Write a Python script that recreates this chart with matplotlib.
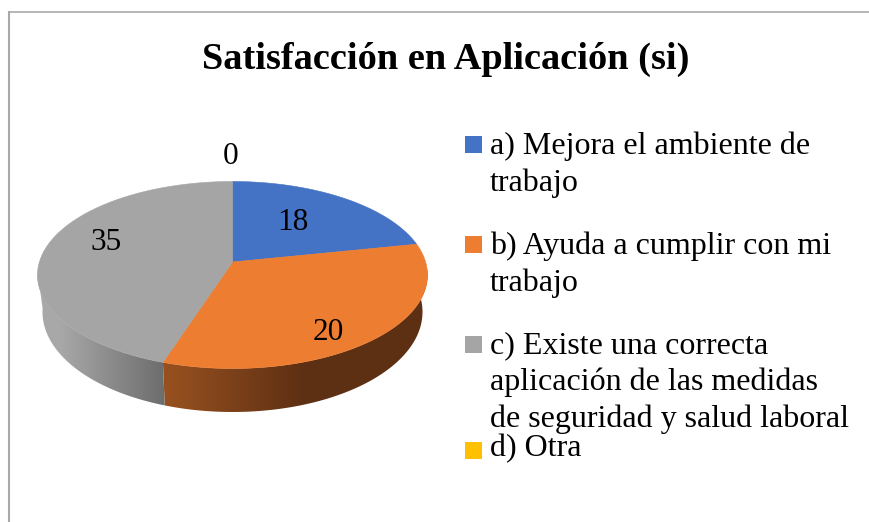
import numpy as np
from matplotlib import pyplot as plt
from matplotlib.colors import to_rgb
from matplotlib.patches import Polygon, Rectangle

plt.rcParams['font.family'] = ['Liberation Serif', 'DejaVu Serif']

title = 'Satisfacción en Aplicación (si)'
categories = [
    'a) Mejora el ambiente de\ntrabajo',
    'b) Ayuda a cumplir con mi\ntrabajo',
    'c) Existe una correcta\naplicación de las medidas\nde seguridad y salud laboral',
    'd) Otra',
]
values = [18, 20, 35, 0]
colors = ['#4472c4', '#ed7d31', '#a5a5a5', '#ffc000']

# 3d look of the pie, everything in pixels
apex = (232.5, 262)
top_rim = (232.5, 275, 195, 93.5)
bottom_rim = (232.5, 312, 190, 100)
# the perspective moves slice edges away from their true angle
view_shift = [0, -18, 13.5, 0, 0]

label_pos = [(293, 222), (328, 333), (106, 243), (231, 157)]
legend_y = [144.5, 244.5, 344.5, 450]
text_y = [146, 246, 345.5, 449]
line_height = 37


def rim(ellipse, t):
    cx, cy, rx, ry = ellipse
    t = np.radians(t)
    return np.column_stack([cx + rx * np.sin(t), cy - ry * np.cos(t)])


def gradient_side(ax, t0, t1, x0, x1, c0, c1):
    t = np.linspace(t0, t1, 120)
    pts = np.vstack([rim(top_rim, t), rim(bottom_rim, t[::-1])])
    patch = Polygon(pts, closed=True, facecolor='none', edgecolor='none')
    ax.add_patch(patch)
    xs = np.linspace(0, 1, 256)
    img = np.outer(1 - xs, to_rgb(c0)) + np.outer(xs, to_rgb(c1))
    im = ax.imshow(img[None, :, :], extent=(x0, x1, 420, 270), aspect='auto',
                   interpolation='bilinear', zorder=2)
    im.set_clip_path(patch)
    # the gradient stops at x0/x1, fill what is outside with flat colour
    for xa, xb, c in [(0, x0, c0), (x1, 870, c1)]:
        r = Rectangle((xa, 270), xb - xa, 150, facecolor=c, edgecolor='none', zorder=2)
        ax.add_patch(r)
        r.set_clip_path(patch)


fig = plt.figure(figsize=(8.7, 5.22), dpi=100)
ax = fig.add_axes([0, 0, 1, 1])

edges = np.concatenate([[0], np.cumsum(values)]) / sum(values) * 360 + view_shift

# side of the pie, only the front part can be seen
gradient_side(ax, edges[1], edges[2], 170, 303, '#96501f', '#5e3013')
gradient_side(ax, edges[2], 272, 60, 163, '#a8a8a8', '#6e6e6e')

# top of the pie
for i, v in enumerate(values):
    if v == 0:
        continue
    pts = rim(top_rim, np.linspace(edges[i], edges[i + 1], 120))
    ax.add_patch(Polygon(np.vstack([apex, pts]), closed=True, facecolor=colors[i],
                         edgecolor=colors[i], linewidth=0.4, zorder=3))

for v, (x, y) in zip(values, label_pos):
    ax.text(x, y, str(v), fontsize=22.5, color='black', ha='center', va='center', zorder=4)

ax.text(446, 59, title, fontsize=27.6, fontweight='bold', ha='center', va='center')

# legend
for cat, c, y, ty in zip(categories, colors, legend_y, text_y):
    ax.add_patch(Rectangle((465, y - 8.5), 17, 17, facecolor=c, edgecolor='none'))
    for j, line in enumerate(cat.split('\n')):
        ax.text(490, ty + j * line_height, line, fontsize=23, ha='left', va='center')

# frame of the chart, cut by the page on right and bottom
ax.plot([9, 9], [522, 12], color='#a9a9a9', linewidth=1.5)
ax.plot([9, 870], [12, 12], color='#a9a9a9', linewidth=1.2)

ax.set_xlim(0, 870)
ax.set_ylim(522, 0)
ax.axis('off')
fig.savefig('out.png', dpi=100)
plt.close(fig)
